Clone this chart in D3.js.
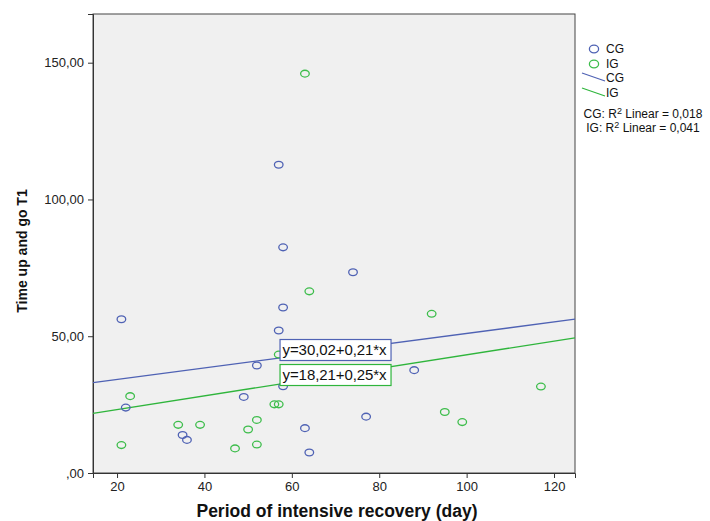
<!DOCTYPE html>
<html>
<head>
<meta charset="utf-8">
<script src="https://cdn.jsdelivr.net/npm/d3@7"></script>
<style>
  body { margin: 0; background: #fff; }
  svg { display: block; font-family: "Liberation Sans", Arial, sans-serif; }
</style>
</head>
<body>
<div id="chart"></div>
<script>
const cgDays = [21, 22, 35, 36, 49, 52, 57, 58, 58, 57, 58, 74, 63, 64, 77, 88]
const cgTug = [56.2, 23.9, 13.9, 12.1, 27.8, 39.3, 52.1, 60.5, 31.7, 112.7, 82.5, 73.4, 16.4, 7.5, 20.6, 37.6]
const igDays = [23, 21, 34, 39, 47, 50, 52, 52, 56, 57, 57, 64, 63, 92, 95, 99, 117]
const igTug = [28.1, 10.2, 17.6, 17.6, 9.0, 15.9, 19.4, 10.4, 25.1, 25.1, 43.3, 66.4, 146.0, 58.2, 22.3, 18.6, 31.6]
const xTicks = [20, 40, 60, 80, 100, 120]
const yTicks = [0, 50, 100, 150]
const fits = [
  { name: "CG", a: 30.02, b: 0.21, r2: "0,018", label: "y=30,02+0,21*x" },
  { name: "IG", a: 18.21, b: 0.25, r2: "0,041", label: "y=18,21+0,25*x" }
]

const blue = "#4f62b4", green = "#3dbd4b"
const W = 710, H = 521
const margin = { top: 14, right: 135, bottom: 48, left: 93 }
const width = W - margin.left - margin.right
const height = H - margin.top - margin.bottom

const svg = d3.select("#chart").append("svg")
  .attr("width", W).attr("height", H)

const g = svg.append("g")
  .attr("transform", `translate(${margin.left},${margin.top})`)

const x = d3.scaleLinear().domain([14.5, 124.8]).range([0, width])
const y = d3.scaleLinear().domain([0, 167.8]).range([height, 0])

// plot background
g.append("rect")
  .attr("width", width).attr("height", height)
  .attr("fill", "#f0f0f0")
  .attr("stroke", "#444").attr("stroke-width", 1)

const fmt = d => d === 0 ? ",00" : d + ",00"

const xAxis = g.append("g")
  .attr("transform", `translate(0,${height})`)
  .call(d3.axisBottom(x).tickValues(xTicks).tickSize(5).tickPadding(4))
const yAxis = g.append("g")
  .call(d3.axisLeft(y).tickValues(yTicks).tickFormat(fmt).tickSize(5).tickPadding(4))

;[xAxis, yAxis].forEach(ax => {
  ax.select(".domain").attr("stroke", "#333")
  ax.selectAll(".tick line").attr("stroke", "#333")
  ax.selectAll(".tick text")
    .attr("fill", "#222")
    .style("font-size", "13px")
    .style("font-family", "Liberation Sans, Arial, sans-serif")
})

// fit lines
const lineColor = { CG: blue, IG: "#2fb53c" }
fits.forEach(f => {
  const d0 = x.domain()[0], d1 = x.domain()[1]
  g.append("line")
    .attr("x1", x(d0)).attr("y1", y(f.a + f.b * d0))
    .attr("x2", x(d1)).attr("y2", y(f.a + f.b * d1))
    .attr("stroke", lineColor[f.name]).attr("stroke-width", 1.3)
})

// points
const cg = cgDays.map((d, i) => ({ x: d, y: cgTug[i] }))
const ig = igDays.map((d, i) => ({ x: d, y: igTug[i] }))

g.append("g").selectAll("ellipse")
  .data(cg)
  .join("ellipse")
    .attr("cx", d => x(d.x)).attr("cy", d => y(d.y))
    .attr("rx", 4.3).attr("ry", 3.4)
    .attr("fill", "none").attr("stroke", blue).attr("stroke-width", 1.3)

g.append("g").selectAll("ellipse")
  .data(ig)
  .join("ellipse")
    .attr("cx", d => x(d.x)).attr("cy", d => y(d.y))
    .attr("rx", 4.3).attr("ry", 3.4)
    .attr("fill", "none").attr("stroke", green).attr("stroke-width", 1.3)

// equation labels
const boxX = x(57.3), boxW = 111, boxH = 21
const boxTops = [y(48.8), y(48.8) + 25]
fits.forEach((f, i) => {
  const bg = g.append("g").attr("transform", `translate(${boxX},${boxTops[i]})`)
  bg.append("rect")
    .attr("width", boxW).attr("height", boxH)
    .attr("fill", "#fff").attr("stroke", lineColor[f.name]).attr("stroke-width", 1.2)
  bg.append("text")
    .attr("x", 2.5).attr("y", 15.5)
    .attr("textLength", 104)
    .style("font-size", "15px")
    .attr("fill", "#111")
    .text(f.label)
})

// axis titles
svg.append("text")
  .attr("x", margin.left + width / 2 + 3).attr("y", 517)
  .attr("text-anchor", "middle")
  .style("font-size", "17.5px").style("font-weight", "bold")
  .attr("fill", "#111")
  .text("Period of intensive recovery (day)")

svg.append("text")
  .attr("transform", "translate(27,251) rotate(-90)")
  .attr("text-anchor", "middle")
  .style("font-size", "14px").style("font-weight", "bold")
  .attr("fill", "#111")
  .text("Time up and go T1")

// legend
const leg = svg.append("g")
const legItems = [["CG", blue], ["IG", green]]
legItems.forEach((d, i) => {
  leg.append("ellipse")
    .attr("cx", 594).attr("cy", 49 + i * 15)
    .attr("rx", 4.6).attr("ry", 3.8)
    .attr("fill", "none").attr("stroke", d[1]).attr("stroke-width", 1.3)
  leg.append("text")
    .attr("x", 606).attr("y", 53 + i * 15)
    .style("font-size", "12px").attr("fill", "#111")
    .text(d[0])
})
fits.forEach((f, i) => {
  leg.append("line")
    .attr("x1", 582).attr("y1", 73 + i * 15)
    .attr("x2", 605).attr("y2", 81 + i * 15)
    .attr("stroke", lineColor[f.name]).attr("stroke-width", 1.3)
  leg.append("text")
    .attr("x", 606).attr("y", 82 + i * 15)
    .style("font-size", "12px").attr("fill", "#111")
    .text(f.name)
})
fits.forEach((f, i) => {
  const t = leg.append("text")
    .attr("x", 643).attr("y", 118 + i * 14)
    .attr("text-anchor", "middle")
    .style("font-size", "12px").attr("fill", "#111")
  t.append("tspan").text(f.name + ": R")
  t.append("tspan").attr("dy", -4).style("font-size", "9px").text("2")
  t.append("tspan").attr("dy", 4).text(" Linear = " + f.r2)
})
</script>
</body>
</html>
